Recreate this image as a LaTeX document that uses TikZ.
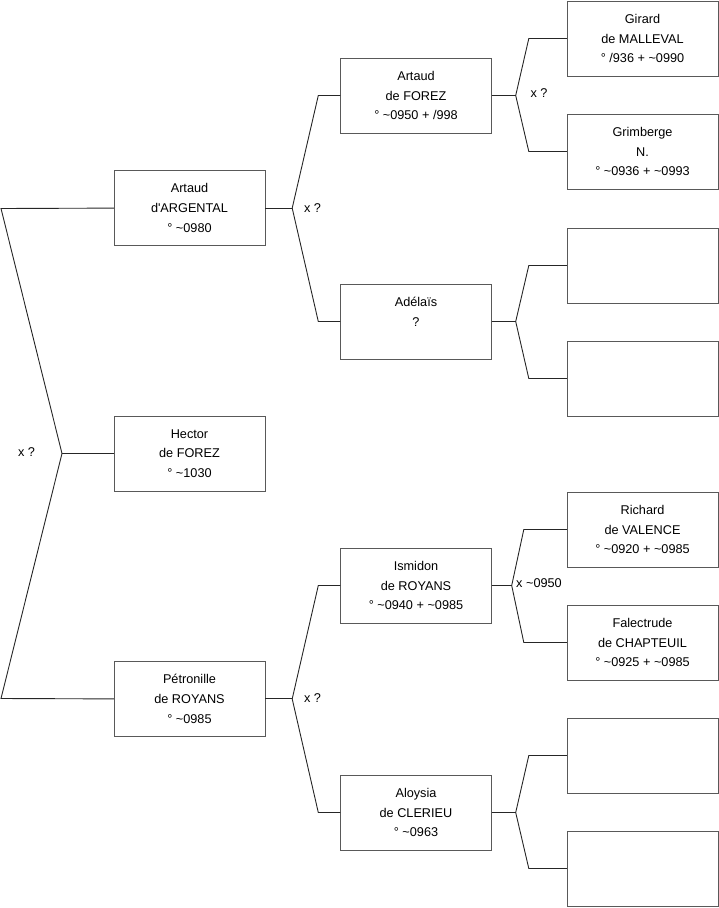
\documentclass[tikz,border=0pt]{standalone}
\usepackage{fontspec}
\setmainfont{Liberation Sans}
\usetikzlibrary{positioning, calc}

\begin{document}
\begin{tikzpicture}[
        x=1pt, y=-1pt,
        node distance=170pt and 76pt,
        font=\fontsize{12.7}{19.8}\selectfont,
        person/.style={rectangle, draw=black!65, align=center, inner sep=0pt, minimum width=151pt, minimum height=75pt},
        link/.style={black!85, line width=0.9pt},
        union/.style={inner sep=0pt, font=\fontsize{12.7}{14}\selectfont}
    ]
        \useasboundingbox (0,0) rectangle (719,908);

        % generation 1
        \node (hector) [person] at (189.5,453.5) {Hector\\de FOREZ\\° \textasciitilde1030};
        \node (artaudA) [person, above=of hector] {Artaud\\d\textquotesingle ARGENTAL\\° \textasciitilde0980};
        \node (petronille) [person, below=of hector] {Pétronille\\de ROYANS\\° \textasciitilde0985};

        % generation 2
        \node (artaudF) [person] at (416,95.5) {Artaud\\de FOREZ\\° \textasciitilde0950 + /998};
        \node (adelais) [person] at (416,321.5) {Adélaïs\\?\\~};
        \node (ismidon) [person] at (416,585.5) {Ismidon\\de ROYANS\\° \textasciitilde0940 + \textasciitilde0985};
        \node (aloysia) [person] at (416,812.5) {Aloysia\\de CLERIEU\\° \textasciitilde0963};

        % generation 3
        \node (girard) [person] at (642.5,38.5) {Girard\\de MALLEVAL\\° /936 + \textasciitilde0990};
        \node (grimberge) [person] at (642.5,151.5) {Grimberge\\N.\\° \textasciitilde0936 + \textasciitilde0993};
        \node (emptyA) [person] at (642.5,265.5) {};
        \node (emptyB) [person] at (642.5,378.5) {};
        \node (richard) [person] at (642.5,529.5) {Richard\\de VALENCE\\° \textasciitilde0920 + \textasciitilde0985};
        \node (falectrude) [person] at (642.5,642.5) {Falectrude\\de CHAPTEUIL\\° \textasciitilde0925 + \textasciitilde0985};
        \node (emptyC) [person] at (642.5,755.5) {};
        \node (emptyD) [person] at (642.5,868.5) {};

        % junctions
        \coordinate (jroot) at (62,453.5);
        \coordinate (kfather) at (1,208.5);
        \coordinate (kmother) at (1,698.5);
        \coordinate (jartaudA) at ($(artaudA.east)+(27,0)$);
        \coordinate (jpetronille) at ($(petronille.east)+(27,0)$);
        \coordinate (jartaudF) at ($(artaudF.east)+(24,0)$);
        \coordinate (jadelais) at ($(adelais.east)+(24,0)$);
        \coordinate (jismidon) at ($(ismidon.east)+(20,0)$);
        \coordinate (jaloysia) at ($(aloysia.east)+(24,0)$);

        \draw [link] (hector.west) -- (jroot);
        \draw [link] (artaudA.west) -- (kfather) -- (jroot) -- (kmother) -- (petronille.west);

        \draw [link] (artaudA.east) -- (jartaudA);
        \draw [link] (artaudF.west) -- ++(-22,0) -- (jartaudA) -- ($(adelais.west)+(-22,0)$) -- (adelais.west);
        \draw [link] (petronille.east) -- (jpetronille);
        \draw [link] (ismidon.west) -- ++(-22,0) -- (jpetronille) -- ($(aloysia.west)+(-22,0)$) -- (aloysia.west);

        \draw [link] (artaudF.east) -- (jartaudF);
        \draw [link] (girard.west) -- ++(-38,0) -- (jartaudF) -- ($(grimberge.west)+(-38,0)$) -- (grimberge.west);
        \draw [link] (adelais.east) -- (jadelais);
        \draw [link] (emptyA.west) -- ++(-38,0) -- (jadelais) -- ($(emptyB.west)+(-38,0)$) -- (emptyB.west);
        \draw [link] (ismidon.east) -- (jismidon);
        \draw [link] (richard.west) -- ++(-43,0) -- (jismidon) -- ($(falectrude.west)+(-43,0)$) -- (falectrude.west);
        \draw [link] (aloysia.east) -- (jaloysia);
        \draw [link] (emptyC.west) -- ++(-38,0) -- (jaloysia) -- ($(emptyD.west)+(-38,0)$) -- (emptyD.west);

        % unions
        \node (uroot) [union] at (26.5,452) {x ?};
        \node (uartaudA) [union] at (312.5,208) {x ?};
        \node (upetronille) [union] at (312.5,698) {x ?};
        \node (uartaudF) [union] at (539,93) {x ?};
        \node (uismidon) [union] at (539,583) {x \textasciitilde0950};
    \end{tikzpicture}
\end{document}
